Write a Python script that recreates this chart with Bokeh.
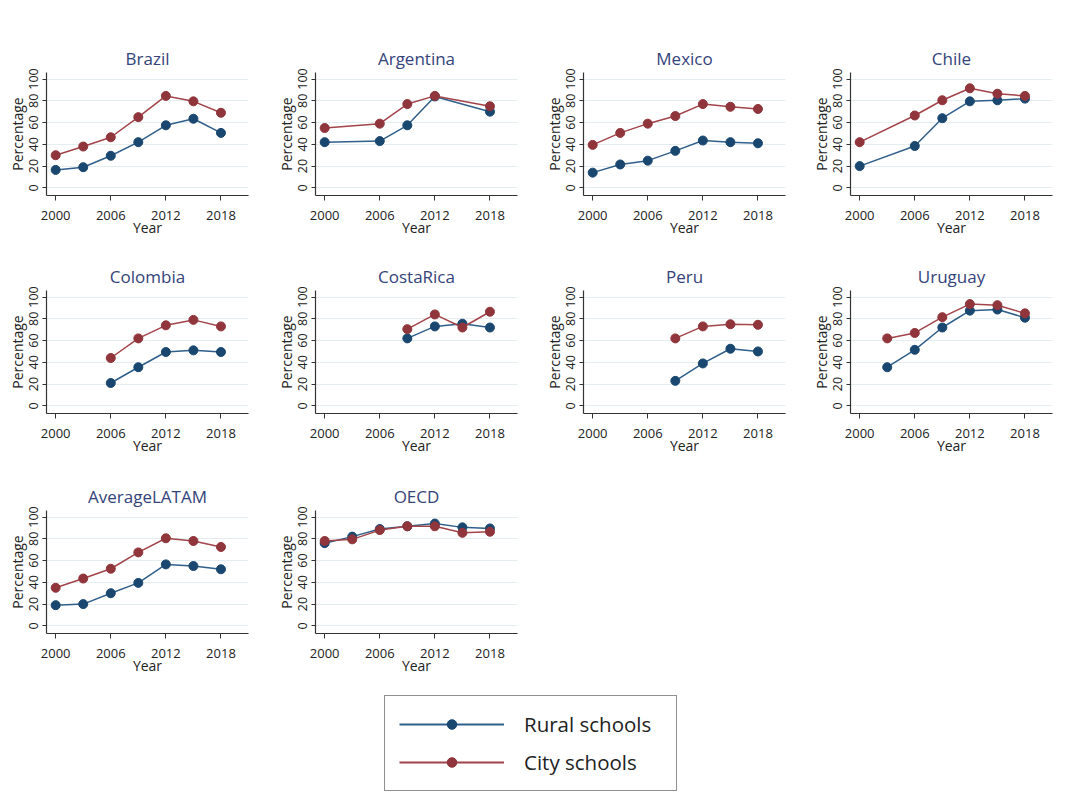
from bokeh.plotting import figure
from bokeh.layouts import column, row
from bokeh.models import Range1d, FixedTicker, Legend, LegendItem
from bokeh.embed import file_html
from bokeh.resources import INLINE

# ---------------- data (percentages) ----------------
brazil_years = [2000, 2003, 2006, 2009, 2012, 2015, 2018]
brazil_rural = [16.5, 19, 29.5, 42, 57.5, 63.5, 50.5]
brazil_city = [30, 38, 46.5, 65, 84.5, 79.5, 69]

argentina_years = [2000, 2006, 2009, 2012, 2018]
argentina_rural = [42, 43, 57.5, 84, 70]
argentina_city = [55, 59, 77, 84.5, 75]

mexico_years = [2000, 2003, 2006, 2009, 2012, 2015, 2018]
mexico_rural = [14, 21.5, 25, 34, 43.5, 42, 41]
mexico_city = [39.5, 50.5, 59, 66, 77, 74.5, 72.5]

chile_years = [2000, 2006, 2009, 2012, 2015, 2018]
chile_rural = [20, 38.5, 64, 79.5, 80.5, 82]
chile_city = [42, 66.5, 80.5, 91.5, 86.5, 84.5]

colombia_years = [2006, 2009, 2012, 2015, 2018]
colombia_rural = [21, 35.5, 49.5, 51, 49.5]
colombia_city = [44, 62, 74, 79, 73]

costarica_years = [2009, 2012, 2015, 2018]
costarica_rural = [62, 73, 75.5, 72]
costarica_city = [70.5, 84, 72, 86.5]

peru_years = [2009, 2012, 2015, 2018]
peru_rural = [23, 39, 52.5, 50]
peru_city = [62, 73, 75, 74.5]

uruguay_years = [2003, 2006, 2009, 2012, 2015, 2018]
uruguay_rural = [35.5, 51.5, 72, 87.5, 88.5, 81]
uruguay_city = [62, 67, 81.5, 93.5, 92.5, 85]

latam_years = [2000, 2003, 2006, 2009, 2012, 2015, 2018]
latam_rural = [19, 20, 30, 39.5, 56.5, 55, 52]
latam_city = [35, 43.5, 52.5, 67.5, 80.5, 78, 72.5]

oecd_years = [2000, 2003, 2006, 2009, 2012, 2015, 2018]
oecd_rural = [76, 82, 89, 91.5, 94, 90.5, 89.5]
oecd_city = [78, 79.5, 88, 91.5, 91.5, 85.5, 86.5]

x_ticks = [2000, 2006, 2012, 2018]
y_ticks = [0, 20, 40, 60, 80, 100]
series_labels = ["Rural schools", "City schools"]

panels = [
    ("Brazil", brazil_years, brazil_rural, brazil_city),
    ("Argentina", argentina_years, argentina_rural, argentina_city),
    ("Mexico", mexico_years, mexico_rural, mexico_city),
    ("Chile", chile_years, chile_rural, chile_city),
    ("Colombia", colombia_years, colombia_rural, colombia_city),
    ("CostaRica", costarica_years, costarica_rural, costarica_city),
    ("Peru", peru_years, peru_rural, peru_city),
    ("Uruguay", uruguay_years, uruguay_rural, uruguay_city),
    ("AverageLATAM", latam_years, latam_rural, latam_city),
    ("OECD", oecd_years, oecd_rural, oecd_city),
]

# ---------------- style ----------------
RURAL = "#1a476f"
CITY = "#90353b"
RURAL_LINE = "#2f5f8a"
CITY_LINE = "#a2444a"
TITLE_C = "#34437a"
FONT = "Open Sans"
GRID_C = "#e4edf0"
AX_C = "#333333"

FRAME_W = 202
FRAME_H = 123
BORDER_B = 44
BORDERS_L = [46, 43, 43, 43]
BORDERS_R = [24, 23, 22, 15]
BORDERS_T = [72, 51, 53]


def make_panel(title, yrs, rural, city, border_l, border_r, border_t):
    p = figure(frame_width=FRAME_W, frame_height=FRAME_H,
               x_range=Range1d(1999, 2021), y_range=Range1d(-7, 106),
               output_backend="svg", toolbar_location=None,
               min_border_left=border_l, min_border_right=border_r,
               min_border_top=border_t, min_border_bottom=BORDER_B,
               title=title)
    p.outline_line_color = None
    p.background_fill_color = "white"
    p.border_fill_color = "white"

    p.title.align = "center"
    p.title.text_font = FONT
    p.title.text_font_size = "17px"
    p.title.text_font_style = "normal"
    p.title.text_color = TITLE_C
    p.title.standoff = 5

    p.xgrid.visible = False
    p.ygrid.ticker = FixedTicker(ticks=y_ticks)
    p.ygrid.grid_line_color = GRID_C
    p.ygrid.grid_line_width = 1

    p.xaxis.ticker = FixedTicker(ticks=x_ticks)
    p.yaxis.ticker = FixedTicker(ticks=y_ticks)
    p.xaxis.axis_label = "Year"
    p.yaxis.axis_label = "Percentage"
    p.yaxis.major_label_orientation = "vertical"
    for ax in (p.xaxis, p.yaxis):
        ax.axis_line_color = AX_C
        ax.axis_line_width = 1.2
        ax.major_tick_line_color = AX_C
        ax.major_tick_in = 0
        ax.minor_tick_line_color = None
        ax.major_label_text_font = FONT
        ax.major_label_text_color = "#222222"
        ax.axis_label_text_font = FONT
        ax.axis_label_text_font_size = "14px"
        ax.axis_label_text_font_style = "normal"
        ax.axis_label_text_color = "#222222"
    p.xaxis.major_tick_out = 5
    p.xaxis.major_label_text_font_size = "13px"
    p.xaxis.major_label_standoff = 10
    p.xaxis.axis_label_standoff = -5
    p.yaxis.major_tick_out = 4
    p.yaxis.major_label_text_font_size = "12.5px"
    p.yaxis.major_label_standoff = 4
    p.yaxis.axis_label_standoff = 0

    p.line(yrs, rural, line_color=RURAL_LINE, line_width=1.5)
    p.scatter(yrs, rural, size=9, fill_color=RURAL, line_color=RURAL)
    p.line(yrs, city, line_color=CITY_LINE, line_width=1.5)
    p.scatter(yrs, city, size=9, fill_color=CITY, line_color=CITY)
    return p


figs = []
for i, (t, yrs, r, c) in enumerate(panels):
    figs.append(make_panel(t, yrs, r, c, BORDERS_L[i % 4], BORDERS_R[i % 4], BORDERS_T[i // 4]))

# ---------------- legend ----------------
nan = float("nan")
lf = figure(width=1067, height=127, x_range=Range1d(0, 1), y_range=Range1d(0, 1),
            output_backend="svg", toolbar_location=None,
            x_axis_location=None, y_axis_location=None,
            min_border=0)
lf.outline_line_color = None
lf.grid.visible = False
rl = lf.line(x=[nan], y=[nan], line_color=RURAL_LINE, line_width=2)
rs = lf.scatter(x=[nan], y=[nan], size=15, fill_color=RURAL, line_color=RURAL)
cl = lf.line(x=[nan], y=[nan], line_color=CITY_LINE, line_width=2)
cs = lf.scatter(x=[nan], y=[nan], size=15, fill_color=CITY, line_color=CITY)
legend = Legend(items=[LegendItem(label=series_labels[0], renderers=[rl, rs]),
                       LegendItem(label=series_labels[1], renderers=[cl, cs])],
                location=(384, 13))
legend.glyph_width = 105
legend.glyph_height = 24
legend.label_height = 24
legend.label_width = 138
legend.spacing = 10
legend.padding = 14
legend.margin = 0
legend.label_standoff = 20
legend.label_text_font = FONT
legend.label_text_font_size = "20.5px"
legend.label_text_color = "#222222"
legend.border_line_color = "#222222"
legend.border_line_width = 1.2
legend.background_fill_color = "white"
lf.add_layout(legend, "center")

layout = column(row(*figs[0:4]), row(*figs[4:8]), row(*figs[8:10]), lf)

open("out.html", "w").write(file_html(layout, INLINE))
